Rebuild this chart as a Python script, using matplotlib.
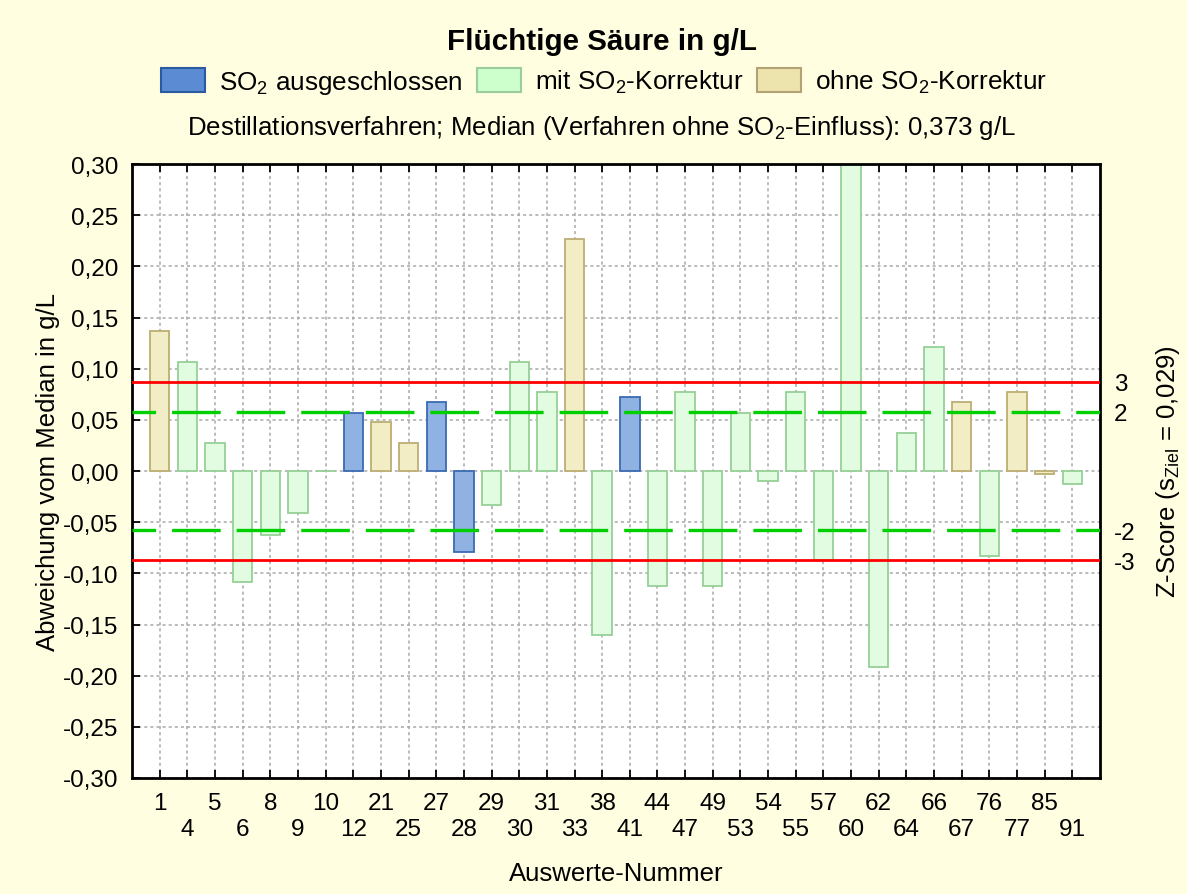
import matplotlib
matplotlib.use("Agg")
import matplotlib.pyplot as plt
from matplotlib.patches import Patch
from matplotlib.ticker import FixedLocator, FixedFormatter

plt.rcParams['font.family'] = ['Liberation Sans', 'DejaVu Sans']
plt.rcParams['mathtext.fontset'] = 'custom'
plt.rcParams['mathtext.rm'] = 'Liberation Sans'
plt.rcParams['mathtext.it'] = 'Liberation Sans:italic'
plt.rcParams['lines.scale_dashes'] = False

# ---- data ----
labs = ["1", "4", "5", "6", "8", "9", "10", "12", "21", "25", "27", "28", "29", "30",
        "31", "33", "38", "41", "44", "47", "49", "53", "54", "55", "57", "60", "62",
        "64", "66", "67", "76", "77", "85", "91"]
values = [0.137, 0.107, 0.027, -0.108, -0.063, -0.041, 0.000, 0.057, 0.048, 0.027,
          0.067, -0.079, -0.033, 0.107, 0.077, 0.227, -0.160, 0.072, -0.112, 0.077,
          -0.112, 0.057, -0.010, 0.077, -0.087, 0.330, -0.192, 0.037, 0.121, 0.067,
          -0.083, 0.077, -0.003, -0.013]
groups = ["o", "m", "m", "m", "m", "m", "m", "a", "o", "o",
          "a", "a", "m", "m", "m", "o", "m", "a", "m", "m",
          "m", "m", "m", "m", "m", "m", "m", "m", "m", "o",
          "m", "o", "o", "m"]
s_ziel = 0.029
yticks = [-0.30, -0.25, -0.20, -0.15, -0.10, -0.05, 0.00, 0.05, 0.10, 0.15, 0.20, 0.25, 0.30]
z_levels = [3, 2, -2, -3]

fill = {"a": "#8fb2e2", "m": "#e2fce2", "o": "#f3edc6"}
edge = {"a": "#3a6ab2", "m": "#96d096", "o": "#bcae72"}
leg_fill = {"a": "#5a8bd3", "m": "#ccffcc", "o": "#ece4ac"}
leg_edge = {"a": "#2a5aa2", "m": "#9ccc9c", "o": "#b2a276"}
leg_text = {"a": "SO$_2$ ausgeschlossen", "m": "mit SO$_2$-Korrektur", "o": "ohne SO$_2$-Korrektur"}

bg = "#fffee0"
fig = plt.figure(figsize=(11.87, 8.95), dpi=100, facecolor=bg)
ax = fig.add_axes([132/1187, 1-779/895, (1100-132)/1187, (779-165)/895])
ax.set_facecolor("white")

x = list(range(len(labs)))
ax.bar(x, values, width=0.7, color=[fill[g] for g in groups],
       edgecolor=[edge[g] for g in groups], linewidth=1.3, zorder=2)

ax.set_xlim(-1, len(labs))
ax.set_ylim(-0.30, 0.30)

# reference lines
for z in z_levels:
    yv = z * s_ziel
    if abs(z) == 3:
        ax.axhline(yv, color="#ff0000", lw=2.0, zorder=3)
    else:
        ax.axhline(yv, color="#00d000", lw=2.4, zorder=3,
                   linestyle=(18, (35, 11.5)))

# grid
ax.grid(True, which="major", color="#a8a8a8", linestyle=(0, (2.2, 2.2)), lw=1.1, zorder=0)
ax.set_axisbelow(True)

ax.set_yticks(yticks)
ax.set_yticklabels([f"{v:.2f}".replace(".", ",").replace("-0,00", "0,00") for v in yticks])

ax.xaxis.set_major_locator(FixedLocator(x[0::2]))
ax.xaxis.set_major_formatter(FixedFormatter(labs[0::2]))
ax.xaxis.set_minor_locator(FixedLocator(x[1::2]))
ax.xaxis.set_minor_formatter(FixedFormatter(labs[1::2]))
ax.grid(True, which="minor", axis="x", color="#a8a8a8", linestyle=(0, (2.2, 2.2)), lw=1.1, zorder=0)

ax.tick_params(axis="both", which="both", direction="in", length=6, width=1.3,
               top=True, right=True, labelsize=17.5, colors="black")
ax.tick_params(axis="x", which="major", pad=10)
ax.tick_params(axis="x", which="minor", pad=29)
ax.tick_params(axis="y", pad=10)
for sp in ax.spines.values():
    sp.set_linewidth(2.0)

ax.set_xlabel("Auswerte-Nummer", fontsize=18.5, labelpad=15)
ax.set_ylabel("Abweichung vom Median in g/L", fontsize=18.5, labelpad=2)

# right z-score axis
ax2 = ax.twinx()
ax2.set_ylim(ax.get_ylim())
ax2.set_yticks([z * s_ziel for z in z_levels])
ax2.set_yticklabels([str(z) for z in z_levels])
ax2.tick_params(axis="y", length=0, pad=10, labelsize=17.5)
for sp in ax2.spines.values():
    sp.set_visible(False)
ax2.set_ylabel("Z-Score (s$_\\mathrm{Ziel}$ = 0,029)", fontsize=18.5, labelpad=13)

# titles and legend
fig.text(0.507, 1-42/895, "Flüchtige Säure in g/L", ha="center", va="center",
         fontsize=21.3, fontweight="bold")
handles = [Patch(facecolor=leg_fill[k], edgecolor=leg_edge[k], lw=1.5, label=leg_text[k])
           for k in ["a", "m", "o"]]
fig.legend(handles=handles, loc="center", bbox_to_anchor=(0.509, 1-83/895), ncol=3,
           frameon=False, fontsize=18.8, handlelength=1.68, handleheight=1.03,
           handletextpad=0.54, columnspacing=0.54)
fig.text(0.507, 1-128/895,
         "Destillationsverfahren; Median (Verfahren ohne SO$_2$-Einfluss): 0,373 g/L",
         ha="center", va="center", fontsize=18.6)

fig.savefig("out.png", dpi=100, facecolor=bg)
